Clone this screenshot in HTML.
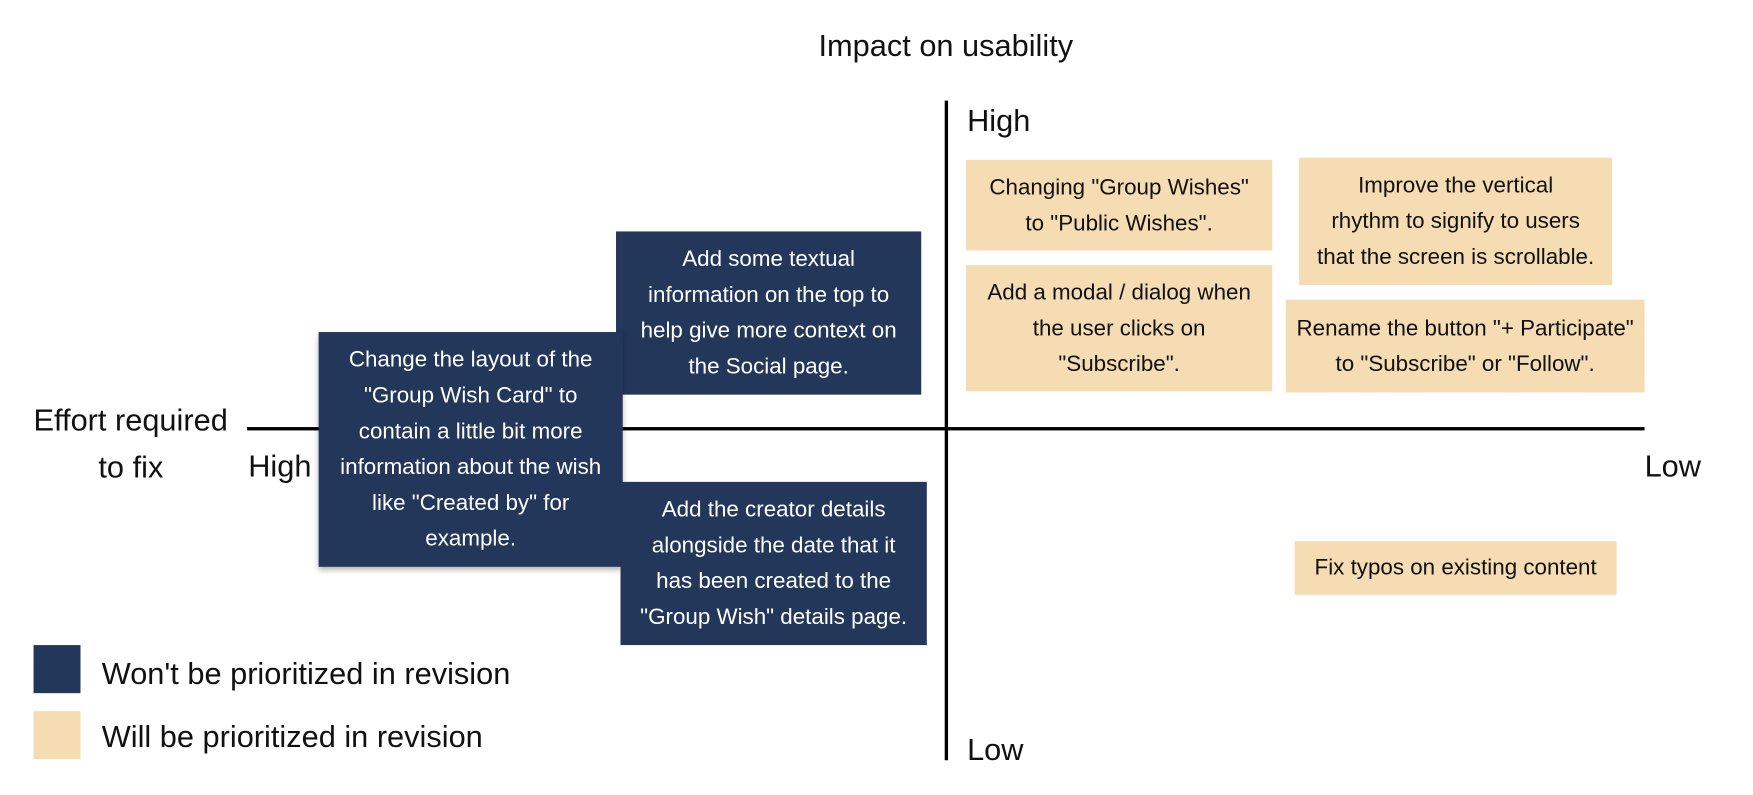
<!DOCTYPE html>
<html><head><meta charset="utf-8"><style>
html,body{margin:0;padding:0;background:#fff;width:1753px;height:795px;overflow:hidden}
#w{position:absolute;left:0;top:0;width:1568px;height:711px;transform:scale(1.118);transform-origin:0 0;font-family:"Liberation Sans",sans-serif;color:#111}
.t{position:absolute;font-size:27.5px;white-space:nowrap;line-height:1}
.b{position:absolute;box-sizing:border-box;display:flex;align-items:center;justify-content:center;text-align:center;font-size:20px;line-height:32px;padding:0;white-space:nowrap}
.d{background:#23375b;color:#fff}
.l{background:#f5dcb2;color:#111}
.ln{position:absolute;background:#000}
</style></head><body><div id="w">
<div class="t" style="left:846px;top:27px;transform:translateX(-50%)">Impact on usability</div>
<div class="ln" style="left:845px;top:90px;width:3px;height:590px"></div>
<div class="ln" style="left:221px;top:382px;width:1250px;height:3px"></div>
<div class="t" style="left:865px;top:94px">High</div>
<div class="t" style="left:865px;top:657px">Low</div>
<div class="t" style="left:30px;top:362px">Effort required</div>
<div class="t" style="left:88px;top:404px">to fix</div>
<div class="t" style="left:222px;top:403px">High</div>
<div class="t" style="left:1471px;top:403px">Low</div>

<div class="b d" style="left:551px;top:207px;width:273px;height:146px">Add some textual<br>information on the top to<br>help give more context on<br>the Social page.</div>
<div class="b d" style="left:285px;top:297px;width:272px;height:210px;box-shadow:0 3px 5px rgba(0,0,0,.3)">Change the layout of the<br>"Group Wish Card" to<br>contain a little bit more<br>information about the wish<br>like "Created by" for<br>example.</div>
<div class="b d" style="left:555px;top:431px;width:274px;height:146px">Add the creator details<br>alongside the date that it<br>has been created to the<br>"Group Wish" details page.</div>

<div class="b l" style="left:864px;top:143px;width:274px;height:81px">Changing "Group Wishes"<br>to "Public Wishes".</div>
<div class="b l" style="left:864px;top:237px;width:274px;height:113px">Add a modal / dialog when<br>the user clicks on<br>"Subscribe".</div>
<div class="b l" style="left:1162px;top:141px;width:280px;height:114px">Improve the vertical<br>rhythm to signify to users<br>that the screen is scrollable.</div>
<div class="b l" style="left:1150px;top:268px;width:321px;height:83px">Rename the button "+ Participate"<br>to "Subscribe" or "Follow".</div>
<div class="b l" style="left:1158px;top:484px;width:288px;height:48px">Fix typos on existing content</div>

<div style="position:absolute;left:30px;top:577px;width:42px;height:43px;background:#23375b"></div>
<div class="t" style="left:91px;top:589px">Won't be prioritized in revision</div>
<div style="position:absolute;left:30px;top:636px;width:42px;height:43px;background:#f5dcb2"></div>
<div class="t" style="left:91px;top:645px">Will be prioritized in revision</div>
</div></body></html>
